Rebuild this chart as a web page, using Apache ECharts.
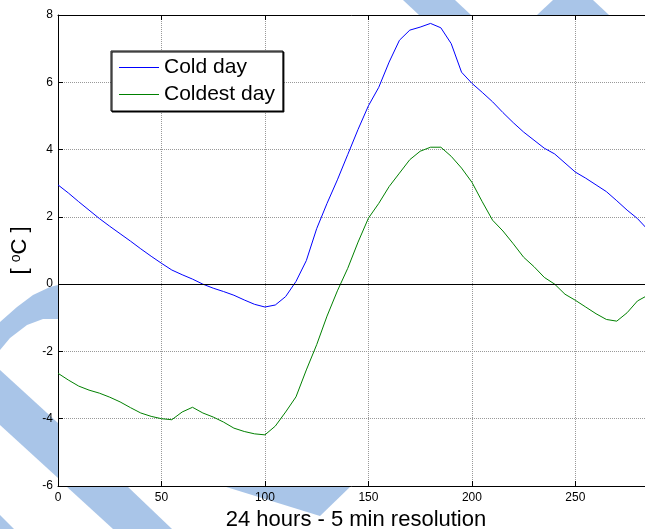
<!DOCTYPE html>
<html>
<head>
<meta charset="utf-8">
<script src="https://cdn.jsdelivr.net/npm/echarts@6/dist/echarts.min.js"></script>
<style>
  html, body { margin: 0; padding: 0; background: #fff; }
  #chart { width: 645px; height: 529px; }
</style>
</head>
<body>
<div id="chart"></div>
<script>
// Sample index (5-minute steps over 24 hours)
const steps = [0, 5, 10, 15, 20, 25, 30, 35, 40, 45, 50, 55, 60, 65, 70, 75, 80, 85, 90, 95,
  100, 105, 110, 115, 120, 125, 130, 135, 140, 145, 150, 155, 160, 165, 170, 175, 180, 185, 190, 195,
  200, 205, 210, 215, 220, 225, 230, 235, 240, 245, 250, 255, 260, 265, 270, 275, 280, 285];

// Temperature, cold day [°C]
const coldDay = [2.95, 2.71, 2.45, 2.2, 1.95, 1.72, 1.5, 1.28, 1.05, 0.83, 0.62, 0.42, 0.28, 0.15, 0.0, -0.12, -0.22, -0.33, -0.47, -0.6,
  -0.68, -0.62, -0.37, 0.08, 0.7, 1.65, 2.4, 3.1, 3.85, 4.6, 5.3, 5.85, 6.6, 7.25, 7.55, 7.64, 7.75, 7.62, 7.15, 6.3,
  5.97, 5.7, 5.42, 5.1, 4.8, 4.52, 4.28, 4.04, 3.87, 3.6, 3.33, 3.15, 2.95, 2.75, 2.48, 2.2, 1.95, 1.62];

// Temperature, coldest day [°C]
const coldestDay = [-2.65, -2.85, -3.03, -3.15, -3.24, -3.36, -3.5, -3.67, -3.83, -3.93, -4.0, -4.03, -3.8, -3.66, -3.83, -3.95, -4.1, -4.28, -4.38, -4.45,
  -4.48, -4.22, -3.8, -3.35, -2.55, -1.8, -0.95, -0.2, 0.47, 1.25, 1.96, 2.4, 2.9, 3.3, 3.7, 3.95, 4.07, 4.07, 3.8, 3.45,
  3.03, 2.45, 1.9, 1.58, 1.2, 0.8, 0.52, 0.2, 0.0, -0.3, -0.48, -0.68, -0.88, -1.05, -1.1, -0.85, -0.5, -0.33];

const seriesNames = ['Cold day', 'Coldest day'];
const xTitle = '24 hours - 5 min resolution';

const FONT = '"Liberation Sans", Arial, Helvetica, sans-serif';
const STRIPE = '#a9c5e8';

const pairs = (vals) => steps.map((s, i) => [s, vals[i]]);

// decorative stripes in the page margin around the plot frame
const stripes = [
  [[403, 0], [455, 0], [471, 15], [419, 15]],
  [[537, 15], [553, 0], [593, 0], [609, 15]],
  [[0, 322], [17, 307], [33, 295], [50, 287], [58, 285], [58, 319], [43, 319], [27, 325], [10, 338], [0, 350]],
  [[0, 370], [58, 423], [58, 478], [0, 425]],
  [[66, 486], [127, 486], [172, 529], [113, 529]],
  [[0, 515], [14, 529], [0, 529]],
  [[223, 486], [351, 486], [320, 516]]
];

const chart = echarts.init(document.getElementById('chart'), null, { renderer: 'canvas' });

chart.setOption({
  backgroundColor: '#ffffff',
  animation: false,
  textStyle: { fontFamily: FONT },
  graphic: stripes.map(pts => ({
    type: 'polygon',
    silent: true,
    shape: { points: pts },
    style: { fill: STRIPE }
  })),
  grid: {
    left: 58, top: 15, right: -9, bottom: 43,
    containLabel: false,
    outerBoundsMode: 'none',
    show: true, backgroundColor: '#ffffff', borderWidth: 0
  },
  legend: {
    left: 111, top: 51,
    orient: 'vertical',
    data: seriesNames,
    itemWidth: 40, itemHeight: 14, itemGap: 6,
    padding: [6, 8, 6, 8],
    backgroundColor: '#ffffff',
    borderColor: '#000000', borderWidth: 1, borderRadius: 0,
    shadowColor: '#000000', shadowOffsetX: 1, shadowOffsetY: 1, shadowBlur: 0,
    textStyle: { fontFamily: FONT, fontSize: 21, color: '#000', lineHeight: 21 },
    icon: 'path://M0,0 L40,0 L40,1 L0,1 Z'
  },
  xAxis: [{
    type: 'value', min: 0, max: 288, interval: 50,
    position: 'bottom',
    name: xTitle, nameLocation: 'middle', nameGap: 21,
    nameTextStyle: { fontFamily: FONT, fontSize: 22, color: '#000' },
    axisLine: { onZero: false, lineStyle: { color: '#000', width: 1 } },
    axisTick: { inside: true, length: 5, lineStyle: { color: '#000' } },
    axisLabel: { fontFamily: FONT, fontSize: 12, color: '#000', margin: 6, showMaxLabel: false },
    splitLine: { show: true, lineStyle: { color: '#999', width: 1, type: [1, 1] } }
  }, {
    type: 'value', min: 0, max: 288, interval: 50,
    position: 'top',
    axisLine: { onZero: false, lineStyle: { color: '#000', width: 1 } },
    axisTick: { inside: true, length: 5, lineStyle: { color: '#000' } },
    axisLabel: { show: false },
    splitLine: { show: false }
  }],
  yAxis: {
    type: 'value', min: -6, max: 8, interval: 2,
    name: '[ {s|o}C ]', nameLocation: 'middle', nameGap: 27,
    nameTextStyle: {
      fontFamily: FONT, fontSize: 22, color: '#000',
      rich: { s: { fontFamily: FONT, fontSize: 14, color: '#000', verticalAlign: 'top', lineHeight: 22 } }
    },
    axisLine: { onZero: false, lineStyle: { color: '#000', width: 1 } },
    axisTick: { inside: true, length: 5, lineStyle: { color: '#000' } },
    axisLabel: { fontFamily: FONT, fontSize: 12, color: '#000', margin: 5 },
    splitLine: { show: true, lineStyle: { color: '#999', width: 1, type: [1, 1] } }
  },
  series: [{
    name: seriesNames[0],
    type: 'line',
    data: pairs(coldDay),
    symbol: 'none',
    lineStyle: { color: '#0000ff', width: 1 },
    itemStyle: { color: '#0000ff' },
    markLine: {
      silent: true, symbol: 'none', label: { show: false },
      lineStyle: { color: '#000', width: 1, type: 'solid' },
      data: [{ yAxis: 0 }]
    }
  }, {
    name: seriesNames[1],
    type: 'line',
    data: pairs(coldestDay),
    symbol: 'none',
    lineStyle: { color: '#008000', width: 1 },
    itemStyle: { color: '#008000' }
  }]
});
</script>
</body>
</html>
